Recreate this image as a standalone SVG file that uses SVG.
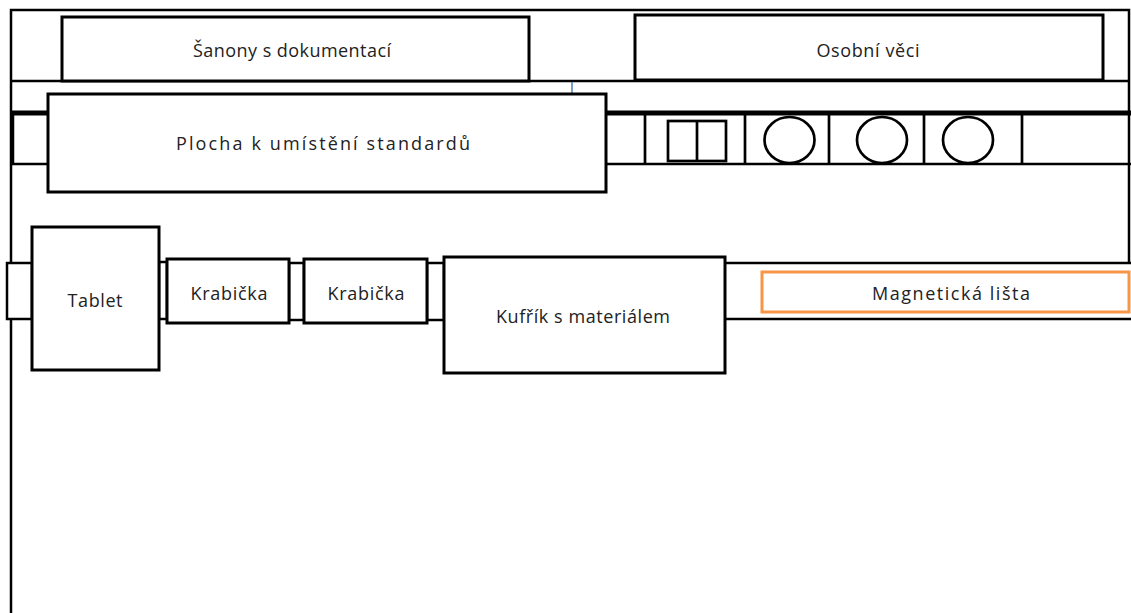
<svg xmlns="http://www.w3.org/2000/svg" width="1131" height="613" viewBox="0 0 1131 613">
  <style>
    .frame { fill: none; stroke: #000; stroke-width: 2.5; }
    .thin { fill: none; stroke: #000; stroke-width: 2.5; }
    .heavy { fill: none; stroke: #000; stroke-width: 5; }
    .box { fill: #fff; stroke: #000; stroke-width: 3; }
    .stub { fill: #fff; stroke: #000; stroke-width: 2.5; }
    .slot { fill: none; stroke: #000; stroke-width: 2.7; }
    .orange { fill: #fff; stroke: #f79646; stroke-width: 3; }
    .lbl { font-family: "Open Sans", "Liberation Sans", sans-serif; font-size: 18px; fill: #222; text-anchor: middle; }
  </style>
  <rect x="0" y="0" width="1131" height="613" fill="#fff"/>

  <!-- room outline and shelf lines -->
  <g id="structure">
    <path class="frame" d="M11,613 V10 H1129 V263"/>
    <line class="frame" x1="11" y1="81" x2="1129" y2="81"/>
    <line class="heavy" x1="11" y1="113" x2="1131" y2="113"/>
    <line class="thin" x1="11" y1="164" x2="1131" y2="164"/>
    <line class="frame" x1="13" y1="113" x2="13" y2="164"/>
    <line x1="572" y1="82" x2="572" y2="93" stroke="#4a7ebb" stroke-width="1.5"/>
    <!-- lower shelf rail -->
    <line class="thin" x1="725" y1="263" x2="1131" y2="263"/>
    <line class="thin" x1="725" y1="319" x2="1131" y2="319"/>
  </g>

  <!-- compartments on the upper rail -->
  <g id="compartments">
    <line class="slot" x1="645" y1="113" x2="645" y2="164"/>
    <line class="slot" x1="745" y1="113" x2="745" y2="164"/>
    <line class="slot" x1="829" y1="113" x2="829" y2="164"/>
    <line class="slot" x1="924" y1="113" x2="924" y2="164"/>
    <line class="slot" x1="1022" y1="113" x2="1022" y2="164"/>
    <rect class="slot" x="668" y="121" width="58" height="40"/>
    <line class="slot" x1="697" y1="121" x2="697" y2="161"/>
    <ellipse class="slot" cx="789.5" cy="140" rx="25" ry="23"/>
    <ellipse class="slot" cx="882" cy="140" rx="25" ry="23"/>
    <ellipse class="slot" cx="968" cy="140" rx="25" ry="23"/>
  </g>

  <!-- connectors between lower-row items -->
  <g id="connectors">
    <rect class="stub" x="7" y="263" width="25" height="56"/>
    <rect class="stub" x="159" y="262" width="8" height="57"/>
    <rect class="stub" x="289" y="263" width="15" height="57"/>
    <rect class="stub" x="427" y="263" width="17" height="57"/>
  </g>

  <g id="sanony">
    <rect class="box" x="62" y="17" width="467" height="64"/>
    <text class="lbl" x="292" y="57" textLength="198" lengthAdjust="spacing">Šanony s dokumentací</text>
  </g>

  <g id="osobni-veci">
    <rect class="box" x="635" y="15" width="468" height="65"/>
    <text class="lbl" x="868" y="57" textLength="103" lengthAdjust="spacing">Osobní věci</text>
  </g>

  <g id="plocha">
    <rect class="box" x="48" y="94" width="558" height="98"/>
    <text class="lbl" x="323" y="150" textLength="294" lengthAdjust="spacing">Plocha k umístění standardů</text>
  </g>

  <g id="tablet">
    <rect class="box" x="32" y="227" width="127" height="143"/>
    <text class="lbl" x="95" y="307" textLength="55" lengthAdjust="spacing">Tablet</text>
  </g>

  <g id="krabicka-1">
    <rect class="box" x="167" y="259" width="122" height="64"/>
    <text class="lbl" x="229" y="300" textLength="77" lengthAdjust="spacing">Krabička</text>
  </g>

  <g id="krabicka-2">
    <rect class="box" x="304" y="259" width="123" height="64"/>
    <text class="lbl" x="366" y="300" textLength="77" lengthAdjust="spacing">Krabička</text>
  </g>

  <g id="kufrik">
    <rect class="box" x="444" y="257" width="281" height="116"/>
    <text class="lbl" x="583" y="323" textLength="174" lengthAdjust="spacing">Kufřík s materiálem</text>
  </g>

  <g id="magneticka-lista">
    <rect class="orange" x="762" y="272" width="367" height="40"/>
    <text class="lbl" x="951" y="300" textLength="158" lengthAdjust="spacing">Magnetická lišta</text>
  </g>
</svg>
